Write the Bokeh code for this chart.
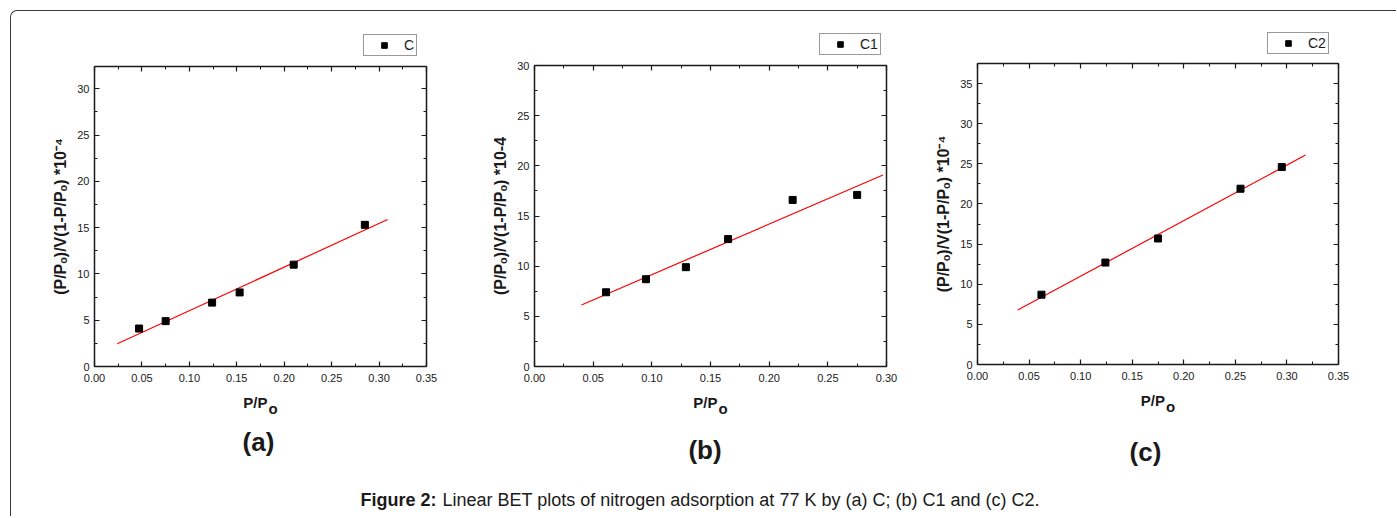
from bokeh.plotting import figure
from bokeh.models import (Range1d, LinearAxis, SingleIntervalTicker, NumeralTickFormatter,
                          CustomJSTickFormatter, Legend, LegendItem, Label)
from bokeh.layouts import row, column
from bokeh.embed import file_html
from bokeh.resources import INLINE

# ---------------- data ----------------
a_name = "C"
a_x = [0.047, 0.075, 0.124, 0.153, 0.210, 0.285]
a_y = [4.1, 4.9, 6.9, 8.0, 11.0, 15.3]
a_fit_x = [0.024, 0.309]
a_fit_y = [2.45, 15.87]

b_name = "C1"
b_x = [0.061, 0.095, 0.129, 0.165, 0.220, 0.275]
b_y = [7.4, 8.7, 9.9, 12.7, 16.6, 17.1]
b_fit_x = [0.040, 0.297]
b_fit_y = [6.13, 19.08]

c_name = "C2"
c_x = [0.062, 0.124, 0.175, 0.255, 0.295]
c_y = [8.7, 12.7, 15.7, 21.9, 24.6]
c_fit_x = [0.039, 0.318]
c_fit_y = [6.78, 26.09]

x_label_main = "P/P"
x_label_sub = "o"
y_label_sup = "(P/P\u2092)/V(1-P/P\u2092) *10\u207b\u2074"
y_label_plain = "(P/P\u2092)/V(1-P/P\u2092) *10-4"
caption_bold = "Figure 2:"
caption_text = "Linear BET plots of nitrogen adsorption at 77 K by (a) C; (b) C1 and (c) C2."

FONT = "Liberation Sans"
INK = "#1a1a1a"
EPS = 1e-9
NAN = float("nan")


def style_axis(ax, ticker, formatter, show_labels=True):
    ax.ticker = ticker
    ax.axis_line_color = INK
    ax.axis_line_width = 1.5
    ax.major_tick_line_color = INK
    ax.minor_tick_line_color = INK
    ax.major_tick_line_width = 1.2
    ax.minor_tick_line_width = 1.0
    ax.major_tick_in = 5
    ax.major_tick_out = 0
    ax.minor_tick_in = 3
    ax.minor_tick_out = 0
    ax.major_label_text_font = FONT
    ax.major_label_text_color = INK
    ax.major_label_text_font_size = "11px"
    if show_labels:
        ax.formatter = formatter
    else:
        ax.formatter = CustomJSTickFormatter(code="return ''")
        ax.major_label_standoff = 0


def blank_fig(w, h, bl=0, br=0):
    f = figure(width=w, height=h, x_range=Range1d(bl, w - br), y_range=Range1d(0, h),
               output_backend="svg", toolbar_location=None, title=None,
               x_axis_location=None, y_axis_location=None,
               min_border_left=bl, min_border_right=br, min_border_top=0, min_border_bottom=0)
    f.grid.visible = False
    f.outline_line_color = None
    f.border_fill_color = None
    f.background_fill_color = None
    return f


TOP_H = 47
MAIN_H = 334
BOT_H = 78


def panel(name, xs, ys, fx, fy, xmax, ymax, ylabel, tag,
          w, bl, br, bt, bb, leg_xy, xlab_y, tag_dx, tag_y):
    # ----- legend strip above the plot -----
    top = blank_fig(w, TOP_H, bl, br)
    key = top.scatter([NAN], [NAN], marker="square", size=7, fill_color="black", line_color="black")
    legend = Legend(items=[LegendItem(label=name, renderers=[key], index=0)],
                    location=(leg_xy[0] - bl, leg_xy[1]),
                    padding=2, margin=0, spacing=0, glyph_width=36, glyph_height=14,
                    label_height=14, label_width=1, label_standoff=2,
                    label_text_font=FONT, label_text_font_size="14px",
                    label_text_color=INK,
                    border_line_color="#333333", border_line_width=1,
                    background_fill_color="white", background_fill_alpha=1)
    top.add_layout(legend)

    # ----- main plot -----
    p = figure(width=w, height=MAIN_H, x_range=Range1d(0, xmax + EPS), y_range=Range1d(0, ymax + EPS),
               output_backend="svg", toolbar_location=None, title=None,
               min_border_left=bl, min_border_right=br, min_border_top=bt,
               min_border_bottom=bb)
    p.xgrid.visible = False
    p.ygrid.visible = False
    p.outline_line_color = None
    p.background_fill_color = "white"
    p.border_fill_color = None

    xt = SingleIntervalTicker(interval=0.05, num_minor_ticks=2)
    yt = SingleIntervalTicker(interval=5, num_minor_ticks=2)
    xf = NumeralTickFormatter(format="0.00")
    yf = NumeralTickFormatter(format="0")

    style_axis(p.xaxis[0], xt, xf)
    p.xaxis[0].major_label_standoff = 7
    style_axis(p.yaxis[0], yt, yf)
    p.yaxis[0].major_label_standoff = 5
    p.yaxis[0].axis_label = ylabel
    p.yaxis[0].axis_label_text_font = FONT
    p.yaxis[0].axis_label_text_font_size = "16px"
    p.yaxis[0].axis_label_text_font_style = "bold"
    p.yaxis[0].axis_label_text_color = INK
    p.yaxis[0].axis_label_standoff = 5

    ax_top = LinearAxis()
    style_axis(ax_top, xt, xf, show_labels=False)
    ax_right = LinearAxis()
    style_axis(ax_right, yt, yf, show_labels=False)
    p.add_layout(ax_top, "above")
    p.add_layout(ax_right, "right")

    p.line(fx, fy, line_color="#ff0000", line_width=1.2)
    p.scatter(xs, ys, marker="square", size=7, fill_color="black", line_color="black")

    # ----- x-axis title and panel tag strip -----
    bot = blank_fig(w, BOT_H, bl, br)
    fw = w - bl - br
    cx = bl + fw / 2
    bot.add_layout(Label(x=cx + 7, y=xlab_y, text=x_label_main,
                         text_align="right", text_baseline="alphabetic", text_font=FONT,
                         text_font_size="15px", text_font_style="bold", text_color=INK))
    bot.add_layout(Label(x=cx + 8, y=xlab_y - 5.5, text=x_label_sub,
                         text_align="left", text_baseline="alphabetic", text_font=FONT,
                         text_font_size="15px", text_font_style="bold", text_color=INK))
    bot.add_layout(Label(x=cx + tag_dx, y=tag_y, text=tag,
                         text_align="center", text_baseline="alphabetic", text_font=FONT,
                         text_font_size="26px", text_font_style="bold", text_color=INK))
    return column(top, p, bot, spacing=0)


pa = panel(a_name, a_x, a_y, a_fit_x, a_fit_y, 0.35, 32.4, y_label_sup, "(a)",
           459, 83, 44, 8, 26, (352, 2), 68, -2, 29)
pb = panel(b_name, b_x, b_y, b_fit_x, b_fit_y, 0.30, 30, y_label_plain, "(b)",
           455, 64, 39, 7, 26, (349, 3), 68, -5.5, 21)
pc = panel(c_name, c_x, c_y, c_fit_x, c_fit_y, 0.35, 37.5, y_label_sup, "(c)",
           471, 52, 58, 5, 28, (342, 4), 70, -12.5, 19)

cap = blank_fig(1385, 46)
cap.add_layout(Label(x=349, y=17, text=caption_bold, text_font=FONT, text_font_size="18px",
                     text_font_style="bold", text_baseline="alphabetic", text_color=INK))
cap.add_layout(Label(x=431, y=17, text=caption_text, text_font=FONT, text_font_size="18px",
                     text_baseline="alphabetic", text_color=INK))

root = column(row(pa, pb, pc, spacing=0), cap, spacing=0, margin=(10, 0, 0, 10),
              styles={"border-top": "1px solid #3a3a3a", "border-left": "1px solid #3a3a3a",
                      "border-top-left-radius": "7px"})

open("out.html", "w").write(file_html(root, INLINE))
